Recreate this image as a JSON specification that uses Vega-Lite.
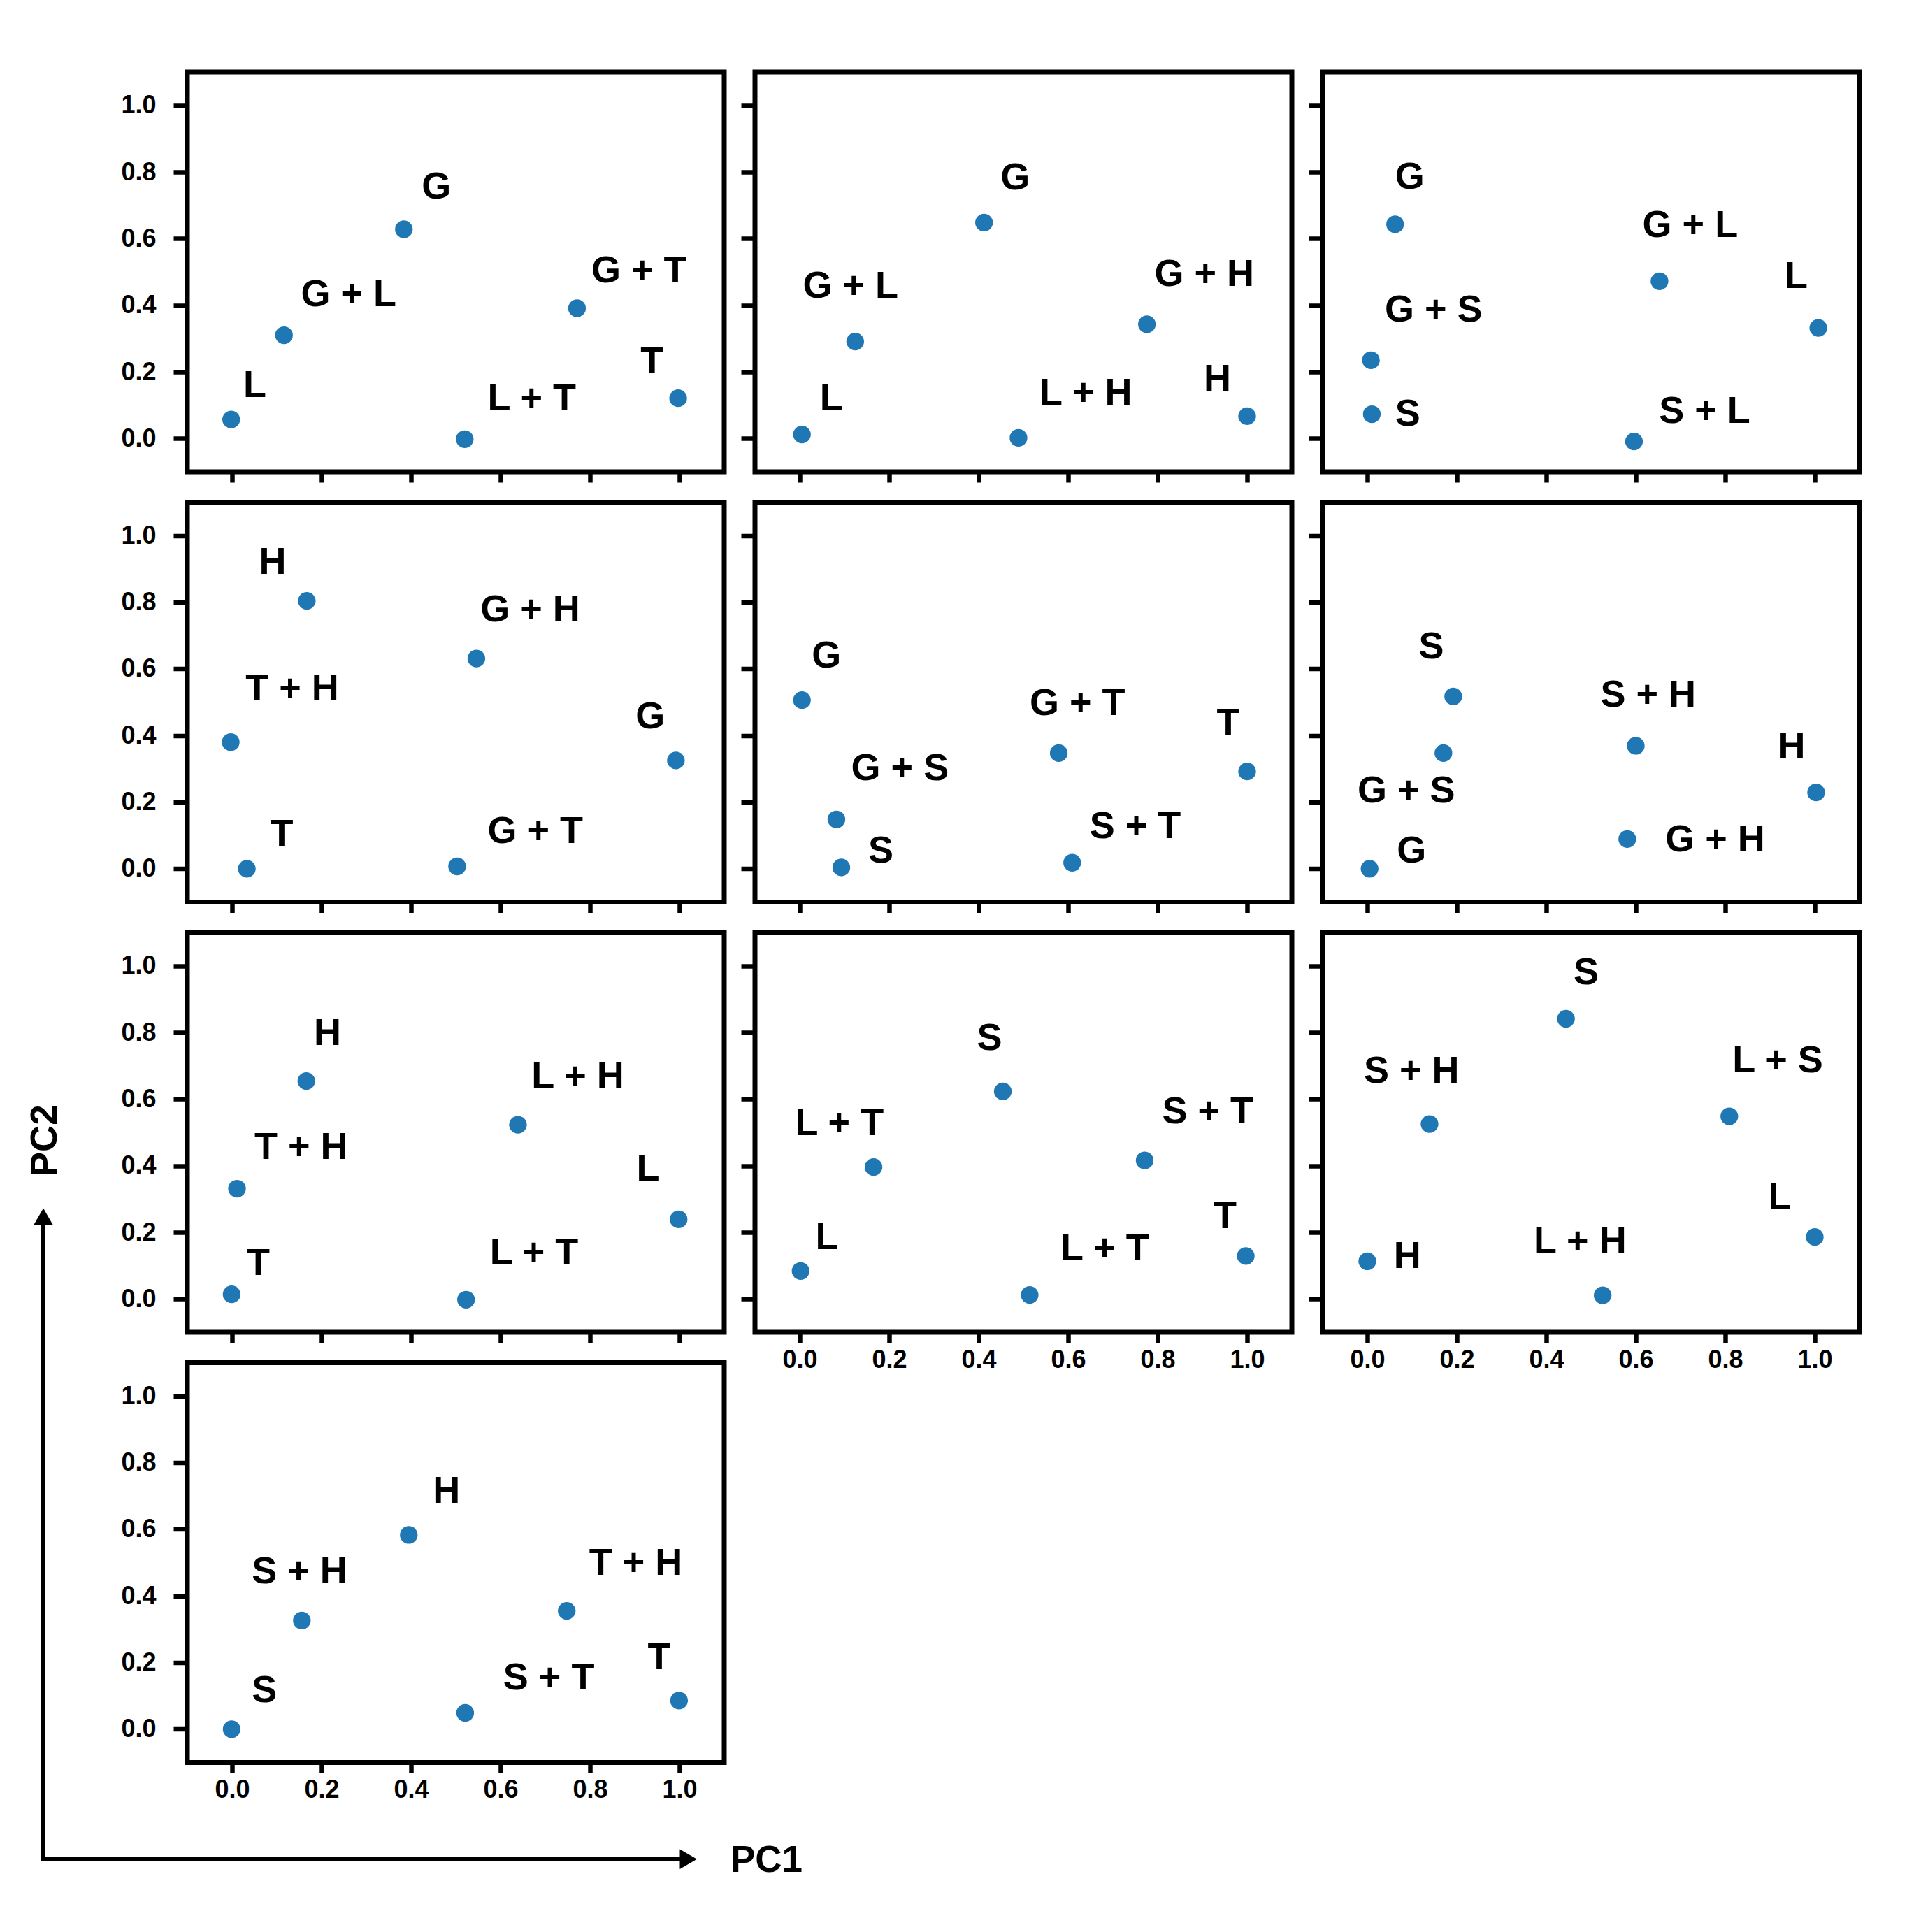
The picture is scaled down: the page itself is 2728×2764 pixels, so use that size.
{
  "$schema": "https://vega.github.io/schema/vega-lite/v6.json",
  "background": "white",
  "padding": {"left": 35, "top": 99, "right": 5, "bottom": 5},
  "bounds": "flush",
  "columns": 3,
  "spacing": {"row": 43.5, "column": 44},
  "data": {"name": "pts"},
  "datasets": {
    "pts": [
      {"p": 1, "t": "L", "x": -0.002, "y": 0.057, "lx": 0.025, "ly": 0.159},
      {"p": 1, "t": "G + L", "x": 0.116, "y": 0.31, "lx": 0.154, "ly": 0.431},
      {"p": 1, "t": "G", "x": 0.384, "y": 0.628, "lx": 0.424, "ly": 0.754},
      {"p": 1, "t": "L + T", "x": 0.52, "y": -0.002, "lx": 0.571, "ly": 0.118},
      {"p": 1, "t": "G + T", "x": 0.771, "y": 0.391, "lx": 0.803, "ly": 0.502},
      {"p": 1, "t": "T", "x": 0.997, "y": 0.121, "lx": 0.913, "ly": 0.23},
      {"p": 2, "t": "L", "x": 0.005, "y": 0.012, "lx": 0.045, "ly": 0.119},
      {"p": 2, "t": "G + L", "x": 0.124, "y": 0.291, "lx": 0.007, "ly": 0.455},
      {"p": 2, "t": "G", "x": 0.412, "y": 0.648, "lx": 0.449, "ly": 0.782},
      {"p": 2, "t": "L + H", "x": 0.489, "y": 0.002, "lx": 0.536, "ly": 0.134},
      {"p": 2, "t": "G + H", "x": 0.776, "y": 0.343, "lx": 0.793, "ly": 0.491},
      {"p": 2, "t": "H", "x": 1.0, "y": 0.067, "lx": 0.903, "ly": 0.176},
      {"p": 3, "t": "G", "x": 0.062, "y": 0.643, "lx": 0.062, "ly": 0.784},
      {"p": 3, "t": "G + L", "x": 0.653, "y": 0.472, "lx": 0.615, "ly": 0.638},
      {"p": 3, "t": "L", "x": 1.008, "y": 0.332, "lx": 0.933, "ly": 0.486},
      {"p": 3, "t": "G + S", "x": 0.008, "y": 0.235, "lx": 0.039, "ly": 0.384},
      {"p": 3, "t": "S", "x": 0.01, "y": 0.073, "lx": 0.062, "ly": 0.073},
      {"p": 3, "t": "S + L", "x": 0.596, "y": -0.009, "lx": 0.652, "ly": 0.081},
      {"p": 4, "t": "H", "x": 0.167, "y": 0.804, "lx": 0.06, "ly": 0.919},
      {"p": 4, "t": "G + H", "x": 0.546, "y": 0.631, "lx": 0.555, "ly": 0.775},
      {"p": 4, "t": "T + H", "x": -0.003, "y": 0.38, "lx": 0.03, "ly": 0.539},
      {"p": 4, "t": "G", "x": 0.992, "y": 0.325, "lx": 0.902, "ly": 0.454},
      {"p": 4, "t": "T", "x": 0.033, "y": 0.0, "lx": 0.085, "ly": 0.103},
      {"p": 4, "t": "G + T", "x": 0.503, "y": 0.007, "lx": 0.571, "ly": 0.111},
      {"p": 5, "t": "G", "x": 0.005, "y": 0.506, "lx": 0.027, "ly": 0.638},
      {"p": 5, "t": "G + S", "x": 0.082, "y": 0.148, "lx": 0.115, "ly": 0.299},
      {"p": 5, "t": "S", "x": 0.093, "y": 0.004, "lx": 0.153, "ly": 0.052},
      {"p": 5, "t": "G + T", "x": 0.579, "y": 0.347, "lx": 0.514, "ly": 0.494},
      {"p": 5, "t": "S + T", "x": 0.609, "y": 0.018, "lx": 0.648, "ly": 0.125},
      {"p": 5, "t": "T", "x": 1.0, "y": 0.292, "lx": 0.932, "ly": 0.435},
      {"p": 6, "t": "S", "x": 0.192, "y": 0.517, "lx": 0.115, "ly": 0.664},
      {"p": 6, "t": "G + S", "x": 0.17, "y": 0.347, "lx": -0.022, "ly": 0.232},
      {"p": 6, "t": "G", "x": 0.005, "y": 0.0, "lx": 0.066, "ly": 0.052},
      {"p": 6, "t": "S + H", "x": 0.6, "y": 0.369, "lx": 0.521, "ly": 0.52},
      {"p": 6, "t": "H", "x": 1.003, "y": 0.229, "lx": 0.918, "ly": 0.365},
      {"p": 6, "t": "G + H", "x": 0.581, "y": 0.089, "lx": 0.666, "ly": 0.085},
      {"p": 7, "t": "H", "x": 0.166, "y": 0.654, "lx": 0.183, "ly": 0.796},
      {"p": 7, "t": "L + H", "x": 0.639, "y": 0.523, "lx": 0.669, "ly": 0.665},
      {"p": 7, "t": "T + H", "x": 0.011, "y": 0.331, "lx": 0.05, "ly": 0.454},
      {"p": 7, "t": "L", "x": 0.998, "y": 0.239, "lx": 0.904, "ly": 0.389},
      {"p": 7, "t": "T", "x": -0.001, "y": 0.014, "lx": 0.033, "ly": 0.106},
      {"p": 7, "t": "L + T", "x": 0.523, "y": -0.002, "lx": 0.576, "ly": 0.137},
      {"p": 8, "t": "S", "x": 0.454, "y": 0.623, "lx": 0.396, "ly": 0.782},
      {"p": 8, "t": "L + T", "x": 0.165, "y": 0.396, "lx": -0.01, "ly": 0.526},
      {"p": 8, "t": "S + T", "x": 0.771, "y": 0.416, "lx": 0.81, "ly": 0.56},
      {"p": 8, "t": "L", "x": 0.002, "y": 0.084, "lx": 0.035, "ly": 0.184},
      {"p": 8, "t": "L + T", "x": 0.514, "y": 0.012, "lx": 0.583, "ly": 0.149},
      {"p": 8, "t": "T", "x": 0.997, "y": 0.129, "lx": 0.925, "ly": 0.247},
      {"p": 9, "t": "S", "x": 0.444, "y": 0.841, "lx": 0.461, "ly": 0.978},
      {"p": 9, "t": "S + H", "x": 0.139, "y": 0.525, "lx": -0.008, "ly": 0.682},
      {"p": 9, "t": "L + S", "x": 0.809, "y": 0.548, "lx": 0.816, "ly": 0.714},
      {"p": 9, "t": "H", "x": 0.0, "y": 0.113, "lx": 0.059, "ly": 0.126},
      {"p": 9, "t": "L + H", "x": 0.526, "y": 0.011, "lx": 0.372, "ly": 0.171},
      {"p": 9, "t": "L", "x": 1.0, "y": 0.186, "lx": 0.896, "ly": 0.302},
      {"p": 10, "t": "S", "x": -0.001, "y": 0.0, "lx": 0.044, "ly": 0.115},
      {"p": 10, "t": "S + H", "x": 0.156, "y": 0.326, "lx": 0.044, "ly": 0.472},
      {"p": 10, "t": "H", "x": 0.395, "y": 0.583, "lx": 0.449, "ly": 0.712},
      {"p": 10, "t": "S + T", "x": 0.521, "y": 0.049, "lx": 0.606, "ly": 0.152},
      {"p": 10, "t": "T + H", "x": 0.748, "y": 0.355, "lx": 0.798, "ly": 0.497},
      {"p": 10, "t": "T", "x": 0.999, "y": 0.086, "lx": 0.929, "ly": 0.214}
    ]
  },
  "concat": [
    {"width": 768, "height": 572, "transform": [{"filter": "datum.p == 1"}], "layer": [
      {"mark": {"type": "point", "filled": true, "size": 640, "color": "#1f77b4", "opacity": 1},
       "encoding": {
         "x": {"field": "x", "type": "quantitative", "scale": {"domain": [-0.1, 1.1], "nice": false, "zero": false}, "axis": {"values": [0, 0.2, 0.4, 0.6, 0.8, 1.0], "labels": false, "title": null}},
         "y": {"field": "y", "type": "quantitative", "scale": {"domain": [-0.1, 1.1], "nice": false, "zero": false}, "axis": {"values": [0, 0.2, 0.4, 0.6, 0.8, 1.0], "format": ".1f", "title": null}}}},
      {"mark": {"type": "text", "align": "left", "baseline": "middle", "fontSize": 54, "fontWeight": "bold", "font": "Liberation Sans", "color": "#000000"},
       "encoding": {"x": {"field": "lx", "type": "quantitative"}, "y": {"field": "ly", "type": "quantitative"}, "text": {"field": "t"}}}
    ]},
    {"width": 768, "height": 572, "transform": [{"filter": "datum.p == 2"}], "layer": [
      {"mark": {"type": "point", "filled": true, "size": 640, "color": "#1f77b4", "opacity": 1},
       "encoding": {
         "x": {"field": "x", "type": "quantitative", "scale": {"domain": [-0.1, 1.1], "nice": false, "zero": false}, "axis": {"values": [0, 0.2, 0.4, 0.6, 0.8, 1.0], "labels": false, "title": null}},
         "y": {"field": "y", "type": "quantitative", "scale": {"domain": [-0.1, 1.1], "nice": false, "zero": false}, "axis": {"values": [0, 0.2, 0.4, 0.6, 0.8, 1.0], "labels": false, "title": null}}}},
      {"mark": {"type": "text", "align": "left", "baseline": "middle", "fontSize": 54, "fontWeight": "bold", "font": "Liberation Sans", "color": "#000000"},
       "encoding": {"x": {"field": "lx", "type": "quantitative"}, "y": {"field": "ly", "type": "quantitative"}, "text": {"field": "t"}}}
    ]},
    {"width": 768, "height": 572, "transform": [{"filter": "datum.p == 3"}], "layer": [
      {"mark": {"type": "point", "filled": true, "size": 640, "color": "#1f77b4", "opacity": 1},
       "encoding": {
         "x": {"field": "x", "type": "quantitative", "scale": {"domain": [-0.1, 1.1], "nice": false, "zero": false}, "axis": {"values": [0, 0.2, 0.4, 0.6, 0.8, 1.0], "labels": false, "title": null}},
         "y": {"field": "y", "type": "quantitative", "scale": {"domain": [-0.1, 1.1], "nice": false, "zero": false}, "axis": {"values": [0, 0.2, 0.4, 0.6, 0.8, 1.0], "labels": false, "title": null}}}},
      {"mark": {"type": "text", "align": "left", "baseline": "middle", "fontSize": 54, "fontWeight": "bold", "font": "Liberation Sans", "color": "#000000"},
       "encoding": {"x": {"field": "lx", "type": "quantitative"}, "y": {"field": "ly", "type": "quantitative"}, "text": {"field": "t"}}}
    ]},
    {"width": 768, "height": 572, "transform": [{"filter": "datum.p == 4"}], "layer": [
      {"mark": {"type": "point", "filled": true, "size": 640, "color": "#1f77b4", "opacity": 1},
       "encoding": {
         "x": {"field": "x", "type": "quantitative", "scale": {"domain": [-0.1, 1.1], "nice": false, "zero": false}, "axis": {"values": [0, 0.2, 0.4, 0.6, 0.8, 1.0], "labels": false, "title": null}},
         "y": {"field": "y", "type": "quantitative", "scale": {"domain": [-0.1, 1.1], "nice": false, "zero": false}, "axis": {"values": [0, 0.2, 0.4, 0.6, 0.8, 1.0], "format": ".1f", "title": null}}}},
      {"mark": {"type": "text", "align": "left", "baseline": "middle", "fontSize": 54, "fontWeight": "bold", "font": "Liberation Sans", "color": "#000000"},
       "encoding": {"x": {"field": "lx", "type": "quantitative"}, "y": {"field": "ly", "type": "quantitative"}, "text": {"field": "t"}}}
    ]},
    {"width": 768, "height": 572, "transform": [{"filter": "datum.p == 5"}], "layer": [
      {"mark": {"type": "point", "filled": true, "size": 640, "color": "#1f77b4", "opacity": 1},
       "encoding": {
         "x": {"field": "x", "type": "quantitative", "scale": {"domain": [-0.1, 1.1], "nice": false, "zero": false}, "axis": {"values": [0, 0.2, 0.4, 0.6, 0.8, 1.0], "labels": false, "title": null}},
         "y": {"field": "y", "type": "quantitative", "scale": {"domain": [-0.1, 1.1], "nice": false, "zero": false}, "axis": {"values": [0, 0.2, 0.4, 0.6, 0.8, 1.0], "labels": false, "title": null}}}},
      {"mark": {"type": "text", "align": "left", "baseline": "middle", "fontSize": 54, "fontWeight": "bold", "font": "Liberation Sans", "color": "#000000"},
       "encoding": {"x": {"field": "lx", "type": "quantitative"}, "y": {"field": "ly", "type": "quantitative"}, "text": {"field": "t"}}}
    ]},
    {"width": 768, "height": 572, "transform": [{"filter": "datum.p == 6"}], "layer": [
      {"mark": {"type": "point", "filled": true, "size": 640, "color": "#1f77b4", "opacity": 1},
       "encoding": {
         "x": {"field": "x", "type": "quantitative", "scale": {"domain": [-0.1, 1.1], "nice": false, "zero": false}, "axis": {"values": [0, 0.2, 0.4, 0.6, 0.8, 1.0], "labels": false, "title": null}},
         "y": {"field": "y", "type": "quantitative", "scale": {"domain": [-0.1, 1.1], "nice": false, "zero": false}, "axis": {"values": [0, 0.2, 0.4, 0.6, 0.8, 1.0], "labels": false, "title": null}}}},
      {"mark": {"type": "text", "align": "left", "baseline": "middle", "fontSize": 54, "fontWeight": "bold", "font": "Liberation Sans", "color": "#000000"},
       "encoding": {"x": {"field": "lx", "type": "quantitative"}, "y": {"field": "ly", "type": "quantitative"}, "text": {"field": "t"}}}
    ]},
    {"width": 768, "height": 572, "transform": [{"filter": "datum.p == 7"}], "layer": [
      {"mark": {"type": "point", "filled": true, "size": 640, "color": "#1f77b4", "opacity": 1},
       "encoding": {
         "x": {"field": "x", "type": "quantitative", "scale": {"domain": [-0.1, 1.1], "nice": false, "zero": false}, "axis": {"values": [0, 0.2, 0.4, 0.6, 0.8, 1.0], "labels": false, "title": null}},
         "y": {"field": "y", "type": "quantitative", "scale": {"domain": [-0.1, 1.1], "nice": false, "zero": false}, "axis": {"values": [0, 0.2, 0.4, 0.6, 0.8, 1.0], "format": ".1f", "title": null}}}},
      {"mark": {"type": "text", "align": "left", "baseline": "middle", "fontSize": 54, "fontWeight": "bold", "font": "Liberation Sans", "color": "#000000"},
       "encoding": {"x": {"field": "lx", "type": "quantitative"}, "y": {"field": "ly", "type": "quantitative"}, "text": {"field": "t"}}}
    ]},
    {"width": 768, "height": 572, "transform": [{"filter": "datum.p == 8"}], "layer": [
      {"mark": {"type": "point", "filled": true, "size": 640, "color": "#1f77b4", "opacity": 1},
       "encoding": {
         "x": {"field": "x", "type": "quantitative", "scale": {"domain": [-0.1, 1.1], "nice": false, "zero": false}, "axis": {"values": [0, 0.2, 0.4, 0.6, 0.8, 1.0], "format": ".1f", "title": null}},
         "y": {"field": "y", "type": "quantitative", "scale": {"domain": [-0.1, 1.1], "nice": false, "zero": false}, "axis": {"values": [0, 0.2, 0.4, 0.6, 0.8, 1.0], "labels": false, "title": null}}}},
      {"mark": {"type": "text", "align": "left", "baseline": "middle", "fontSize": 54, "fontWeight": "bold", "font": "Liberation Sans", "color": "#000000"},
       "encoding": {"x": {"field": "lx", "type": "quantitative"}, "y": {"field": "ly", "type": "quantitative"}, "text": {"field": "t"}}}
    ]},
    {"width": 768, "height": 572, "transform": [{"filter": "datum.p == 9"}], "layer": [
      {"mark": {"type": "point", "filled": true, "size": 640, "color": "#1f77b4", "opacity": 1},
       "encoding": {
         "x": {"field": "x", "type": "quantitative", "scale": {"domain": [-0.1, 1.1], "nice": false, "zero": false}, "axis": {"values": [0, 0.2, 0.4, 0.6, 0.8, 1.0], "format": ".1f", "title": null}},
         "y": {"field": "y", "type": "quantitative", "scale": {"domain": [-0.1, 1.1], "nice": false, "zero": false}, "axis": {"values": [0, 0.2, 0.4, 0.6, 0.8, 1.0], "labels": false, "title": null}}}},
      {"mark": {"type": "text", "align": "left", "baseline": "middle", "fontSize": 54, "fontWeight": "bold", "font": "Liberation Sans", "color": "#000000"},
       "encoding": {"x": {"field": "lx", "type": "quantitative"}, "y": {"field": "ly", "type": "quantitative"}, "text": {"field": "t"}}}
    ]},
    {"width": 768, "height": 572, "layer": [
      {"transform": [{"filter": "datum.p == 10"}],
       "mark": {"type": "point", "filled": true, "size": 640, "color": "#1f77b4", "opacity": 1},
       "encoding": {
         "x": {"field": "x", "type": "quantitative", "scale": {"domain": [-0.1, 1.1], "nice": false, "zero": false}, "axis": {"values": [0, 0.2, 0.4, 0.6, 0.8, 1.0], "format": ".1f", "title": null}},
         "y": {"field": "y", "type": "quantitative", "scale": {"domain": [-0.1, 1.1], "nice": false, "zero": false}, "axis": {"values": [0, 0.2, 0.4, 0.6, 0.8, 1.0], "format": ".1f", "title": null}}}},
      {"transform": [{"filter": "datum.p == 10"}],
       "mark": {"type": "text", "align": "left", "baseline": "middle", "fontSize": 54, "fontWeight": "bold", "font": "Liberation Sans", "color": "#000000"},
       "encoding": {"x": {"field": "lx", "type": "quantitative"}, "y": {"field": "ly", "type": "quantitative"}, "text": {"field": "t"}}},
      {"data": {"values": [{}]},
       "mark": {"type": "rule", "color": "#000000", "strokeWidth": 6, "strokeCap": "square"},
       "encoding": {"x": {"datum": -0.4219, "type": "quantitative"}, "x2": {"datum": 1.0125}, "y": {"datum": -0.39, "type": "quantitative"}}},
      {"data": {"values": [{}]},
       "mark": {"type": "rule", "color": "#000000", "strokeWidth": 6, "strokeCap": "square"},
       "encoding": {"x": {"datum": -0.4219, "type": "quantitative"}, "y": {"datum": -0.39, "type": "quantitative"}, "y2": {"datum": 1.525}}},
      {"data": {"values": [{}]},
       "mark": {"type": "point", "shape": "triangle-right", "filled": true, "size": 800, "color": "#000000", "opacity": 1},
       "encoding": {"x": {"datum": 1.0199, "type": "quantitative"}, "y": {"datum": -0.39, "type": "quantitative"}}},
      {"data": {"values": [{}]},
       "mark": {"type": "point", "shape": "triangle-up", "filled": true, "size": 800, "color": "#000000", "opacity": 1},
       "encoding": {"x": {"datum": -0.4219, "type": "quantitative"}, "y": {"datum": 1.538, "type": "quantitative"}}},
      {"data": {"values": [{}]},
       "mark": {"type": "text", "align": "left", "baseline": "middle", "fontSize": 53, "fontWeight": "bold", "font": "Liberation Sans", "color": "#000000"},
       "encoding": {"x": {"datum": 1.114, "type": "quantitative"}, "y": {"datum": -0.3944, "type": "quantitative"}, "text": {"value": "PC1"}}},
      {"data": {"values": [{}]},
       "mark": {"type": "text", "align": "center", "baseline": "middle", "angle": 270, "fontSize": 53, "fontWeight": "bold", "font": "Liberation Sans", "color": "#000000"},
       "encoding": {"x": {"datum": -0.417, "type": "quantitative"}, "y": {"datum": 1.7665, "type": "quantitative"}, "text": {"value": "PC2"}}}
    ]}
  ],
  "config": {
    "font": "Liberation Sans",
    "view": {"stroke": "#000000", "strokeWidth": 7},
    "axis": {"grid": false, "domain": false, "tickColor": "#000000", "tickWidth": 6.5, "labelFont": "Liberation Sans", "labelFontSize": 36, "labelFontWeight": "bold", "labelColor": "#000000", "labelOverlap": false},
    "axisX": {"tickSize": 15, "labelPadding": 7},
    "axisY": {"tickSize": 20, "labelPadding": 25}
  }
}
